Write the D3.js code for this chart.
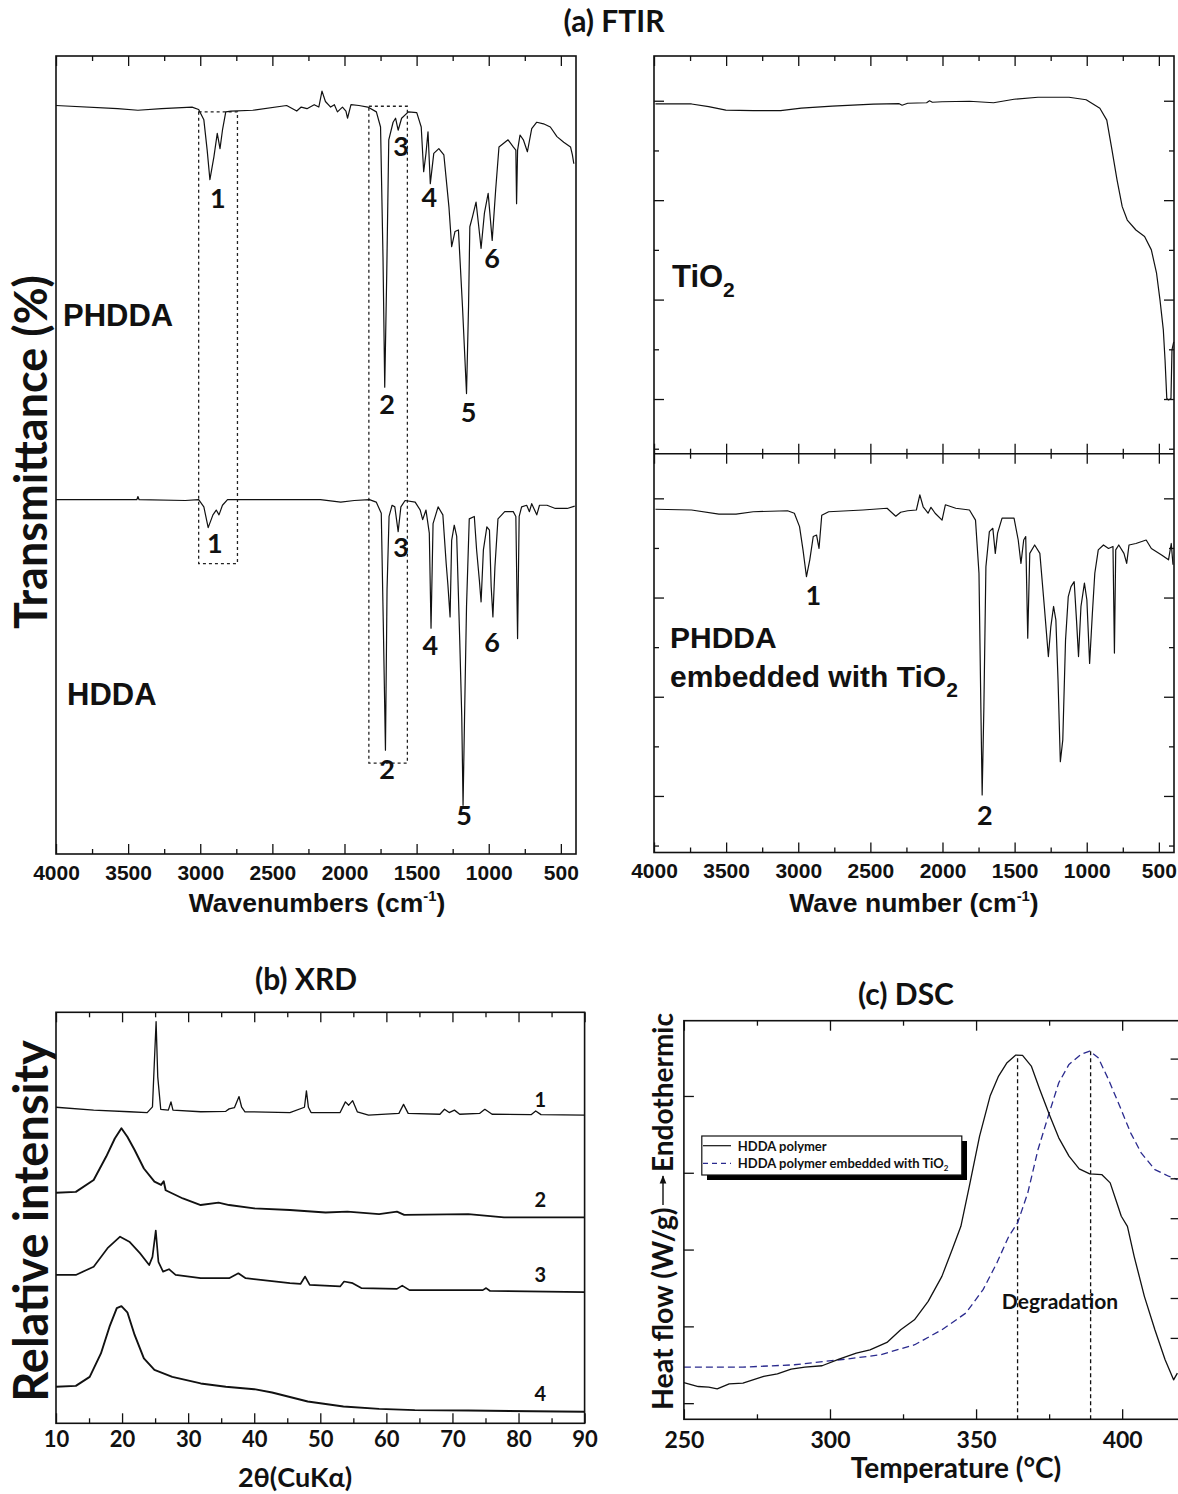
<!DOCTYPE html>
<html>
<head>
<meta charset="utf-8">
<script src="https://cdn.jsdelivr.net/npm/d3@7/dist/d3.min.js"></script>
<style>
  body { margin: 0; background: #fff; }
  .lbl { font-family: "Liberation Sans", Arial, sans-serif; font-weight: bold; fill: #111; }
  .cal { font-family: Lato, "Open Sans", sans-serif; font-weight: bold; fill: #111; }
</style>
</head>
<body>
<script>
var W = 1178, H = 1494;

// ---------- FTIR (cm-1, transmittance in the stacked scale) ----------
var phddaSpec = [[4000,93.8],[3573,93.4],[3432,93.2],[3268,93.4],[3057,93.6],[3011,93.3],[2975,92.0],[2952,88.2],
  [2933,84.5],[2905,87.4],[2882,90.3],[2863,88.4],[2846,90.7],[2823,93.0],[2787,93.1],[2636,93.2],[2401,93.8],
  [2331,93.1],[2300,93.6],[2260,93.4],[2210,93.9],[2178,93.6],[2156,95.6],[2132,94.3],[2096,93.6],[2070,93.9],[2049,93.0],
  [2014,93.6],[1990,93.1],[1979,92.2],[1955,93.9],[1900,93.8],[1838,93.6],[1779,93.0],[1750,91.1],[1733,74.8],
  [1721,58.5],[1707,72.8],[1693,89.5],[1663,91.7],[1646,92.2],[1628,90.7],[1604,92.2],[1557,93.0],[1499,92.9],
  [1468,91.1],[1451,85.5],[1435,87.8],[1421,90.5],[1405,84.0],[1381,87.8],[1346,88.4],[1311,87.6],[1276,81.1],
  [1257,76.1],[1234,78.0],[1210,78.2],[1182,68.6],[1154,57.7],[1140,68.6],[1131,78.6],[1112,79.9],[1088,81.7],
  [1069,78.6],[1053,75.9],[1030,80.3],[1004,82.8],[976,76.9],[952,83.2],[929,88.6],[866,89.5],[830,88.6],
  [812,88.2],[807,81.5],[800,88.2],[783,90.1],[760,89.5],[732,88.0],[702,90.9],[667,91.7],[620,91.5],[573,91.1],
  [527,89.9],[480,89.2],[433,88.6],[420,87.6],[410,86.5]];

var hddaSpec = [[4000,44.4],[3440,44.4],[3432,44.8],[3424,44.4],[3104,44.3],[3011,44.4],[2975,43.5],[2945,40.9],
  [2912,42.5],[2889,43.1],[2870,42.5],[2846,43.7],[2811,44.4],[2167,44.4],[2026,44.1],[1932,44.3],[1827,44.4],
  [1780,44.1],[1745,42.7],[1731,28.9],[1716,13.0],[1705,33.1],[1691,42.3],[1670,43.7],[1651,43.5],[1628,40.4],
  [1609,43.5],[1580,44.3],[1510,44.1],[1475,43.1],[1458,41.9],[1435,43.1],[1412,40.2],[1400,28.3],[1386,41.4],
  [1351,43.5],[1318,42.5],[1295,36.4],[1283,33.7],[1268,29.7],[1257,39.3],[1239,41.2],[1222,39.8],[1201,26.8],
  [1187,17.2],[1178,6.1],[1168,16.8],[1154,31.0],[1135,42.0],[1100,42.3],[1084,38.1],[1065,34.3],[1053,31.6],
  [1037,38.1],[1013,41.0],[995,40.6],[983,33.5],[971,29.7],[957,36.0],[936,42.0],[889,42.9],[830,42.9],[812,42.3],
  [800,27.0],[789,42.3],[772,43.5],[737,43.7],[718,42.9],[702,43.9],[667,42.5],[648,43.7],[596,43.7],[538,43.3],
  [456,43.3],[404,43.6]];

var tio2Spec = [[3990,69.35],[3740,69.35],[3621,68.8],[3502,68.1],[3312,68.0],[3122,68.0],[2979,68.5],[2765,68.9],
  [2479,69.3],[2300,69.4],[2280,69.1],[2241,69.5],[2110,69.6],[2090,70.0],[2070,69.7],[2003,69.8],[1813,69.9],
  [1646,69.6],[1504,70.3],[1338,70.7],[1123,70.7],[1004,70.2],[909,68.5],[861,66.1],[825,60.1],[790,54.1],[754,48.7],
  [719,46.0],[659,44.0],[599,42.7],[552,40.0],[516,35.3],[492,29.9],[469,23.9],[457,17.8],[445,10.1],[433,9.8],
  [416,10.1],[409,19.9],[397,21.5]];

var compSpec = [[3990,67.8],[3740,67.65],[3550,66.8],[3431,66.8],[3312,67.3],[3074,67.5],[3027,67.0],[2991,64.3],
  [2967,59.6],[2943,54.2],[2920,57.6],[2896,62.3],[2873,62.6],[2856,59.9],[2837,66.6],[2789,67.3],[2551,67.65],
  [2384,68.0],[2324,66.4],[2290,67.2],[2241,67.5],[2181,67.65],[2157,70.7],[2134,68.3],[2100,67.0],[2080,68.2],
  [2051,67.0],[2003,65.6],[1980,68.7],[1908,68.0],[1813,67.65],[1771,65.6],[1747,54.9],[1734,28.0],[1725,10.2],
  [1713,28.0],[1699,56.2],[1675,63.3],[1651,63.96],[1634,58.9],[1618,63.0],[1587,66.0],[1504,66.0],[1475,61.6],
  [1456,56.9],[1437,61.6],[1423,62.3],[1409,41.8],[1395,58.9],[1361,60.6],[1325,58.9],[1294,48.2],[1266,38.1],
  [1249,44.1],[1230,48.2],[1214,45.5],[1199,33.4],[1183,16.9],[1166,21.3],[1147,41.4],[1128,50.2],[1109,52.2],
  [1087,53.2],[1071,45.5],[1057,38.1],[1040,48.2],[1016,52.9],[999,49.5],[980,36.7],[961,46.8],[944,54.9],
  [920,59.6],[884,60.6],[849,59.9],[818,60.3],[808,38.8],[799,59.6],[778,60.6],[742,58.9],[723,56.9],[707,60.6],
  [659,60.9],[588,61.6],[552,59.9],[481,58.6],[433,57.6],[414,60.9],[402,56.6]];

var ftirMajor = [4000, 3500, 3000, 2500, 2000, 1500, 1000, 500];
var ftirMinor = [3750, 3250, 2750, 2250, 1750, 1250, 750];
var rightMajor = [10, 30, 50, 70];
var rightMinor = [0, 20, 40, 60];

// peak numbers [cm-1, value, text]
var phddaPeaks = [[2878,82.2,"1"],[1705,56.4,"2"],[1608,88.7,"3"],[1412,82.3,"4"],[1140,55.4,"5"],[976,74.6,"6"]];
var hddaPeaks = [[2898,38.9,"1"],[1705,10.6,"2"],[1608,38.4,"3"],[1405,26.2,"4"],[1171,4.8,"5"],[976,26.5,"6"]];
var compPeaks = [[2896,50.5,"1"],[1706,6.2,"2"]];
// dotted boxes [from cm-1, to cm-1, top, bottom]
var boxes = [[3011, 2742, 93.0, 36.4], [1831, 1564, 93.7, 11.4]];

// ---------- XRD (2theta, relative intensity) ----------
var xrd1 = [[10,76.9],[15.7,76.2],[21.1,75.8],[23.8,75.6],[24.6,77.0],[24.9,88.4],[25.15,97.7],[25.4,84.3],[25.85,76.4],
  [27.0,76.2],[27.4,78.2],[27.7,76.2],[31.9,75.8],[35.7,75.9],[36.2,76.5],[37.0,76.8],[37.7,79.5],[38.1,76.9],
  [38.6,75.8],[45.4,75.6],[47.6,76.9],[47.9,80.9],[48.2,76.9],[48.6,75.6],[53.0,75.6],[53.8,78.2],[54.3,77.4],
  [54.9,78.5],[55.6,75.8],[57.3,75.0],[61.9,75.4],[62.6,77.6],[63.3,75.4],[68.1,75.2],[68.8,76.4],[69.5,75.6],
  [70.3,76.2],[71.1,75.2],[74.1,75.4],[74.9,76.4],[76.0,75.2],[81.9,75.1],[82.6,76.0],[83.4,75.1],[90,75.0]];
var xrd2 = [[10,56.1],[13.0,56.3],[15.7,59.2],[17.6,64.9],[18.9,69.3],[19.9,71.8],[20.8,69.7],[21.9,66.5],[23.3,62.0],
  [24.9,58.8],[25.9,58.0],[26.3,58.9],[26.6,56.7],[29.2,54.7],[31.9,53.1],[34.6,53.7],[36.2,53.1],[40.0,52.3],
  [45.4,51.9],[50.8,51.3],[54.1,51.5],[58.9,50.9],[61.6,51.5],[62.7,50.7],[72.4,50.9],[77.8,50.1],[90,50.1]];
var xrd3 = [[10,36.1],[13.0,36.1],[15.7,38.1],[17.8,42.6],[19.7,45.4],[21.1,44.2],[22.7,41.4],[24.1,38.5],[24.6,40.5],
  [25.1,46.9],[25.5,39.3],[26.2,36.9],[27.1,37.5],[28.1,36.1],[31.9,35.3],[36.2,35.3],[37.6,36.5],[38.7,35.3],
  [45.4,34.1],[47.0,33.9],[47.7,35.7],[48.4,33.7],[53.0,33.3],[53.6,34.5],[54.9,34.1],[56.2,32.9],[61.6,32.7],
  [62.4,33.5],[63.5,32.4],[74.6,32.4],[75.1,32.9],[75.7,32.2],[90,31.9]];
var xrd4 = [[10,8.9],[13.0,9.1],[15.1,11.3],[16.8,17.0],[18.1,23.5],[19.2,28.0],[19.9,28.5],[20.8,27.0],[21.9,21.5],
  [23.3,15.8],[24.9,13.0],[27.6,11.3],[31.9,9.7],[35.7,8.9],[40.0,8.3],[42.7,7.5],[48.1,5.3],[53.5,4.1],[58.9,3.5],
  [64.3,3.2],[72.4,3.1],[90,2.8]];
var xrdNames = [[83.3,78.8,"1"],[83.3,54.5,"2"],[83.3,36.1,"3"],[83.3,7.1,"4"]];
var xrdMajor = [10, 20, 30, 40, 50, 60, 70, 80, 90];
var xrdMinor = [15, 25, 35, 45, 55, 65, 75, 85];

// ---------- DSC (temperature C, heat flow) ----------
var dscPolymer = [[250,0.269],[254.9,0.217],[258.5,0.209],[261.4,0.187],[265.5,0.252],[270.2,0.261],[277.3,0.348],
  [282,0.382],[286.7,0.443],[291.4,0.469],[297.3,0.487],[303.1,0.574],[309,0.652],[313.7,0.695],[319.5,0.791],
  [324.2,0.956],[328.9,1.086],[333.6,1.326],[338.3,1.651],[341.8,1.999],[344.8,2.303],[347.7,2.825],[351.2,3.477],
  [354.8,3.998],[357.7,4.259],[360.6,4.433],[363.6,4.533],[365.9,4.528],[368.9,4.389],[371.8,4.085],[375.3,3.737],
  [378.3,3.455],[381.8,3.216],[385.3,3.051],[388.9,2.986],[393,2.977],[395.9,2.868],[398.2,2.607],[399.7,2.434],
  [401.8,2.303],[404.1,1.912],[407.6,1.391],[411.2,0.956],[414.7,0.565],[417.6,0.304],[418.9,0.391]];
var dscTiO2 = [[250,0.469],[270.2,0.469],[287.8,0.5],[305.5,0.574],[317.2,0.63],[329,0.761],[338.3,0.956],
  [346.5,1.173],[352.4,1.478],[357.1,1.825],[361.2,2.173],[364.2,2.347],[367.7,2.738],[371.2,3.303],[374.7,3.737],
  [378.3,4.172],[381.8,4.411],[385.9,4.542],[388.9,4.585],[391.8,4.498],[395.3,4.216],[399.4,3.846],[402.9,3.52],
  [406.5,3.259],[411.2,3.042],[415.9,2.955],[418.9,2.912]];
var dscPeaks = [[364.2, 4.533], [389.2, 4.585]];
var dscMajor = [250, 300, 350, 400];
var dscMinor = [275, 325, 375];
var dscLeftTicks = [0, 1, 2, 3, 4];
var dscRightTicks = [1, 2, 3, 4, 5, 6, 7, 8];
var legendNames = ["HDDA polymer", "HDDA polymer embedded with TiO"];

var svg = d3.select("body").append("svg")
    .attr("width", W)
    .attr("height", H);

// scales
var xL = d3.scaleLinear().domain([4000, 395]).range([56, 576]);
var yL = d3.scaleLinear().domain([0, 100]).range([854, 56]);
var xR = d3.scaleLinear().domain([4000, 395]).range([654, 1174]);
var yT = d3.scaleLinear().domain([-1, 79]).range([453.7, 56]);
var yC = d3.scaleLinear().domain([-1.4, 79]).range([852.5, 453.7]);
var xX = d3.scaleLinear().domain([10, 90]).range([56, 584.6]);
var yX = d3.scaleLinear().domain([0, 100]).range([1423.3, 1012.3]);
var xD = d3.scaleLinear().domain([250, 420]).range([683.9, 1180.6]);
var yD = d3.scaleLinear().domain([-0.21, 4.98]).range([1419.3, 1020.7]);
var yDr = d3.scaleLinear().domain([-1.04, 8.95]).range([1419.3, 1020.7]);

function frame(x0, y0, x1, y1) {
    svg.append("rect")
        .attr("x", x0).attr("y", y0)
        .attr("width", x1 - x0).attr("height", y1 - y0)
        .attr("fill", "none")
        .attr("stroke", "#111")
        .attr("stroke-width", 1.6);
}

// one axis = major ticks (optionally labelled) + minor ticks, inward
function axis(maker, sc, pos, horiz, majors, minors, labelled, cls, fsize, pad) {
    var g = svg.append("g")
        .attr("transform", horiz ? "translate(0," + pos + ")" : "translate(" + pos + ",0)");
    g.call(maker(sc).tickValues(majors).tickSize(-10).tickPadding(pad || 10)
        .tickFormat(labelled ? d3.format("d") : ""));
    g.select(".domain").remove();
    var g2 = svg.append("g")
        .attr("transform", horiz ? "translate(0," + pos + ")" : "translate(" + pos + ",0)");
    g2.call(maker(sc).tickValues(minors || []).tickSize(-5).tickFormat(""));
    g2.select(".domain").remove();
    svg.selectAll(".tick line").attr("stroke", "#111").attr("stroke-width", 1.3);
    g.selectAll("text").attr("class", cls).attr("font-size", fsize)
        .attr("font-family", null).style("fill", "#111");
    g.attr("font-family", null).attr("font-size", null);
}

function curve(data, sx, sy, width, color, dash) {
    svg.append("path")
        .datum(data)
        .attr("d", d3.line().x(function (d) { return sx(d[0]); }).y(function (d) { return sy(d[1]); }))
        .attr("fill", "none")
        .attr("stroke", color || "#111")
        .attr("stroke-width", width)
        .attr("stroke-linejoin", "round")
        .attr("stroke-dasharray", dash || null);
}

function marks(data, sx, sy, cls, fsize) {
    svg.append("g").selectAll("text")
        .data(data)
        .enter()
        .append("text")
        .attr("class", cls)
        .attr("x", function (d) { return sx(d[0]); })
        .attr("y", function (d) { return sy(d[1]); })
        .attr("dy", "0.36em")
        .attr("text-anchor", "middle")
        .attr("font-size", fsize)
        .text(function (d) { return d[2]; });
}

function subText(x, y, main, sub, size, subSize, cls) {
    var t = svg.append("text").attr("class", cls).attr("x", x).attr("y", y).attr("font-size", size);
    t.append("tspan").text(main);
    if (sub) t.append("tspan").attr("font-size", subSize).attr("dy", size * 0.32).text(sub);
    return t;
}

function supTitle(x, y, main, size) {
    svg.append("text").attr("class", "lbl").attr("x", x).attr("y", y)
        .attr("text-anchor", "middle").attr("font-size", size)
        .call(function (t) {
            t.append("tspan").text(main);
            t.append("tspan").attr("font-size", size * 0.56).attr("dy", -11).text("-1");
            t.append("tspan").attr("dy", 11).text(")");
        });
}

// ===== (a) FTIR =====
svg.append("text").attr("class", "cal").attr("x", 614).attr("y", 32)
    .attr("text-anchor", "middle").attr("font-size", 30).text("(a) FTIR");

svg.append("text").attr("class", "cal")
    .attr("transform", "translate(47,452) rotate(-90)")
    .attr("text-anchor", "middle").attr("font-size", 45).text("Transmittance (%)");

// left box
svg.append("g").selectAll("rect")
    .data(boxes)
    .enter()
    .append("rect")
    .attr("x", function (d) { return xL(d[0]); })
    .attr("y", function (d) { return yL(d[2]); })
    .attr("width", function (d) { return xL(d[1]) - xL(d[0]); })
    .attr("height", function (d) { return yL(d[3]) - yL(d[2]); })
    .attr("fill", "none")
    .attr("stroke", "#222")
    .attr("stroke-width", 1.3)
    .attr("stroke-dasharray", "3,3");

curve(phddaSpec, xL, yL, 1.2);
curve(hddaSpec, xL, yL, 1.2);
frame(56, 56, 576, 854);
axis(d3.axisBottom, xL, 854, true, ftirMajor, ftirMinor, true, "lbl", 21, 11);
axis(d3.axisTop, xL, 56, true, ftirMajor, ftirMinor, false, "lbl", 21);
marks(phddaPeaks, xL, yL, "cal", 27);
marks(hddaPeaks, xL, yL, "cal", 27);
subText(63, 326, "PHDDA", null, 31, 0, "lbl");
subText(67, 705, "HDDA", null, 31, 0, "lbl");
supTitle(317, 912, "Wavenumbers (cm", 26.5);

// right boxes
curve(tio2Spec, xR, yT, 1.2);
curve(compSpec, xR, yC, 1.2);
frame(654, 56, 1174, 852.5);
svg.append("line").attr("x1", 654).attr("x2", 1174).attr("y1", 453.7).attr("y2", 453.7)
    .attr("stroke", "#111").attr("stroke-width", 1.6);
axis(d3.axisTop, xR, 56, true, ftirMajor, ftirMinor, false, "lbl", 21);
axis(d3.axisBottom, xR, 453.7, true, ftirMajor, ftirMinor, false, "lbl", 21);
axis(d3.axisTop, xR, 453.7, true, ftirMajor, ftirMinor, false, "lbl", 21);
axis(d3.axisBottom, xR, 852.5, true, ftirMajor, ftirMinor, true, "lbl", 21, 11);
axis(d3.axisLeft, yT, 654, false, rightMajor, rightMinor, false, "lbl", 21);
axis(d3.axisRight, yT, 1174, false, rightMajor, rightMinor, false, "lbl", 21);
axis(d3.axisLeft, yC, 654, false, rightMajor, rightMinor, false, "lbl", 21);
axis(d3.axisRight, yC, 1174, false, rightMajor, rightMinor, false, "lbl", 21);
marks(compPeaks, xR, yC, "cal", 27);
subText(672, 287, "TiO", "2", 31, 21, "lbl");
subText(670, 648, "PHDDA", null, 30, 0, "lbl");
subText(670, 687, "embedded with TiO", "2", 30, 21, "lbl");
supTitle(914, 912, "Wave number (cm", 26.5);

// ===== (b) XRD =====
svg.append("text").attr("class", "cal").attr("x", 306).attr("y", 990)
    .attr("text-anchor", "middle").attr("font-size", 30).text("(b) XRD");
svg.append("text").attr("class", "cal")
    .attr("transform", "translate(48,1221) rotate(-90)")
    .attr("text-anchor", "middle").attr("font-size", 47).text("Relative intensity");

curve(xrd1, xX, yX, 1.3);
curve(xrd2, xX, yX, 1.9);
curve(xrd3, xX, yX, 1.7);
curve(xrd4, xX, yX, 1.9);
frame(56, 1012.3, 584.6, 1423.3);
axis(d3.axisBottom, xX, 1423.3, true, xrdMajor, xrdMinor, true, "cal", 22, 8);
axis(d3.axisTop, xX, 1012.3, true, xrdMajor, xrdMinor, false, "cal", 22);
marks(xrdNames, xX, yX, "cal", 20);
svg.append("text").attr("class", "cal").attr("x", 295).attr("y", 1487)
    .attr("text-anchor", "middle").attr("font-size", 27).text("2\u03b8(CuK\u03b1)");

// ===== (c) DSC =====
svg.append("text").attr("class", "cal").attr("x", 906).attr("y", 1005)
    .attr("text-anchor", "middle").attr("font-size", 30).text("(c) DSC");

svg.append("g").selectAll("line")
    .data(dscPeaks)
    .enter()
    .append("line")
    .attr("x1", function (d) { return xD(d[0]); })
    .attr("x2", function (d) { return xD(d[0]); })
    .attr("y1", yD(-0.21))
    .attr("y2", function (d) { return yD(d[1]); })
    .attr("stroke", "#111")
    .attr("stroke-width", 1.3)
    .attr("stroke-dasharray", "4,3");

curve(dscTiO2, xD, yD, 1.3, "#2a2a8e", "7,4");
curve(dscPolymer, xD, yD, 1.3);
frame(683.9, 1020.7, 1180.6, 1419.3);
axis(d3.axisBottom, xD, 1419.3, true, dscMajor, dscMinor, true, "cal", 23, 12);
axis(d3.axisTop, xD, 1020.7, true, dscMajor, dscMinor, false, "cal", 23);
axis(d3.axisLeft, yD, 683.9, false, dscLeftTicks, [], false, "cal", 23);
axis(d3.axisRight, yDr, 1180.6, false, dscRightTicks, [], false, "cal", 23);

svg.append("text").attr("class", "cal").attr("x", 1060).attr("y", yD(1.32))
    .attr("dy", "0.36em").attr("text-anchor", "middle").attr("font-size", 21).text("Degradation");

// legend
svg.append("rect").attr("x", 707).attr("y", 1141).attr("width", 260).attr("height", 39).attr("fill", "#000");
svg.append("rect").attr("x", 701.8).attr("y", 1136).attr("width", 260).attr("height", 39)
    .attr("fill", "#fff").attr("stroke", "#111").attr("stroke-width", 1.2);
var leg = svg.append("g").selectAll("g")
    .data(legendNames)
    .enter()
    .append("g")
    .attr("transform", function (d, i) { return "translate(0," + (1145.7 + i * 17.6) + ")"; });
leg.append("line")
    .attr("x1", 703).attr("x2", 731).attr("y1", 0).attr("y2", 0)
    .attr("stroke", function (d, i) { return i ? "#2a2a8e" : "#111"; })
    .attr("stroke-width", 1.2)
    .attr("stroke-dasharray", function (d, i) { return i ? "5,4" : null; });
leg.append("text")
    .attr("class", "cal")
    .attr("x", 737.8)
    .attr("y", 5)
    .attr("font-size", 13)
    .text(function (d) { return d; })
    .filter(function (d, i) { return i === 1; })
    .append("tspan").attr("font-size", 8).attr("dy", 3).text("2");

// rotated y label with arrow
svg.append("text").attr("class", "cal")
    .attr("transform", "translate(673,1410) rotate(-90)")
    .attr("font-size", 28.5).text("Heat flow (W/g)");
svg.append("defs").append("marker")
    .attr("id", "arr").attr("viewBox", "0 0 10 10").attr("refX", 9).attr("refY", 5)
    .attr("markerWidth", 6).attr("markerHeight", 6).attr("orient", "auto")
    .append("path").attr("d", "M0,1 L10,5 L0,9 z").attr("fill", "#111");
svg.append("line").attr("x1", 663).attr("x2", 663).attr("y1", 1205).attr("y2", 1176)
    .attr("stroke", "#111").attr("stroke-width", 1.4).attr("marker-end", "url(#arr)");
svg.append("text").attr("class", "cal")
    .attr("transform", "translate(673,1172) rotate(-90)")
    .attr("font-size", 28).text("Endothermic");

svg.append("text").attr("class", "cal").attr("x", 956).attr("y", 1478)
    .attr("text-anchor", "middle").attr("font-size", 28).text("Temperature (\u00b0C)");
</script>
</body>
</html>
